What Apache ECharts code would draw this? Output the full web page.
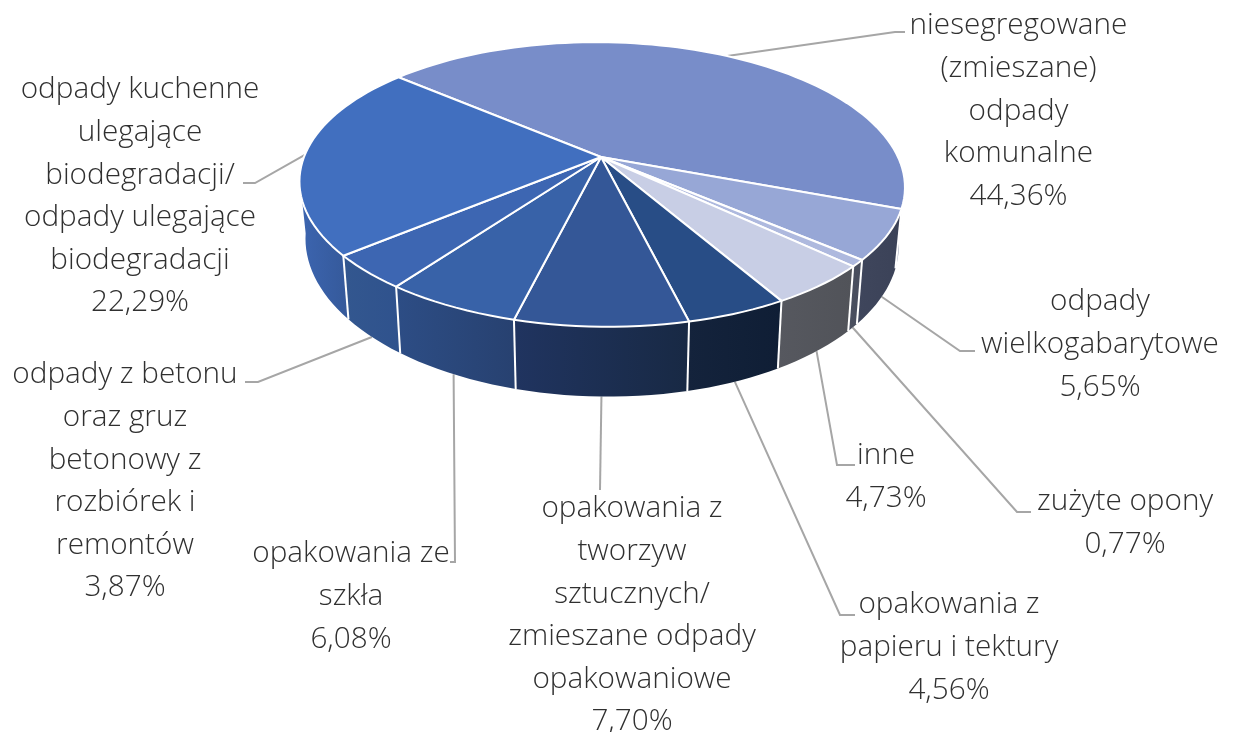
<!DOCTYPE html>
<html>
<head>
<meta charset="utf-8">
<title>Odpady</title>
<style>
    html,body{margin:0;padding:0;background:#fff;}
    #Dimg{width:1240px;height:732px;}
</style>
</head>
<body>
<div id="Dimg"></div>
<script src="https://cdn.jsdelivr.net/npm/echarts@6/dist/echarts.min.js"></script>
<script type="text/javascript">
    // dane
    var categories = [
        'niesegregowane\n(zmieszane)\nodpady\nkomunalne',
        'odpady\nwielkogabarytowe',
        'zużyte opony',
        'inne',
        'opakowania z\npapieru i tektury',
        'opakowania z\ntworzyw\nsztucznych/\nzmieszane odpady\nopakowaniowe',
        'opakowania ze\nszkła',
        'odpady z betonu\noraz gruz\nbetonowy z\nrozbiórek i\nremontów',
        'odpady kuchenne\nulegające\nbiodegradacji/\nodpady ulegające\nbiodegradacji'
    ];
    var values = [44.36, 5.65, 0.77, 4.73, 4.56, 7.70, 6.08, 3.87, 22.29];

    // kolory
    var topColors = ['#788dc9', '#97a7d6', '#aeb9de', '#c8cee5', '#284d86', '#345797', '#3862a8', '#3d66b2', '#416fbf'];
    var wallLeft = ['#a0a8bc', '#3f465c', '#4b5060', '#56585f', '#14233c', '#203460', '#2d4d85', '#33578f', '#3c65b0'];
    var wallRight = ['#6d7488', '#3b4258', '#474c5c', '#515359', '#0f1e35', '#182944', '#274170', '#2f528d', '#35599a'];

    // polozenie etykiet: srodek tekstu, pierwsza linia
    var labelX = [1018.5, 1100, 1125, 886, 949, 632, 351, 125, 140];
    var labelY = [26, 302, 502, 456, 605, 509, 554, 375, 90];
    var elbowPoints = [
        [[895, 32], [905, 32]],
        [[960, 351], [975, 351]],
        [[1017, 512], [1031, 512]],
        [[837, 465], [855, 465]],
        [[840, 615], [855, 615]],
        [[600, 490]],
        [[455, 562], [450, 562]],
        [[258, 382], [245, 382]],
        [[255, 183], [243, 183]]
    ];
    var fromTopRing = [true, false, false, false, false, false, false, false, true];

    // rzut perspektywiczny kola
    var startAngle = -49;
    var lineHeight = 42.6;
    var total = 0;
    for (var i = 0; i < values.length; i++) {
        total += values[i];
    }
    var angles = [startAngle];
    for (var i = 0; i < values.length; i++) {
        angles.push(angles[i] + values[i] / total * 360);
    }

    function project(deg, bottom) {
        var a = deg * Math.PI / 180;
        var u = Math.sin(a), v = Math.cos(a);
        var d = 1 + 0.193 * v;
        if (bottom) {
            return [601 + 0.98 * (297 * u - 6 * v) / d, 212 - 149 * v / d];
        }
        return [601 + (297 * u - 6 * v) / d, 157 - 137 * v / d];
    }
    function arc(a0, a1, bottom) {
        var pts = [];
        var n = Math.max(2, Math.ceil(Math.abs(a1 - a0) / 2));
        for (var i = 0; i <= n; i++) {
            pts.push(project(a0 + (a1 - a0) * i / n, bottom));
        }
        return pts;
    }

    var renderWall = function (params, api) {
        var idx = api.value(0);
        // tylko widoczna czesc sciany
        var a0 = Math.max(angles[idx], 100);
        var a1 = Math.min(angles[idx + 1], 262);
        var children = [];
        if (a1 > a0) {
            var lower = arc(a0, a1, true).reverse();
            children.push({
                type: 'polygon',
                shape: {points: arc(a0, a1, false).concat(lower)},
                style: {
                    fill: new echarts.graphic.LinearGradient(0, 0, 1, 0, [
                        {offset: 0, color: wallLeft[idx]},
                        {offset: 1, color: wallRight[idx]}
                    ]),
                    stroke: null
                }
            });
            if (angles[idx] > 100) {
                children.push({
                    type: 'line',
                    shape: {
                        x1: project(a0, false)[0], y1: project(a0, false)[1],
                        x2: project(a0, true)[0], y2: project(a0, true)[1]
                    },
                    style: {stroke: '#fff', lineWidth: 2}
                });
            }
        }
        return {type: 'group', children: children};
    };

    var renderTop = function (params, api) {
        var idx = api.value(0);
        return {
            type: 'polygon',
            shape: {points: [[601, 157]].concat(arc(angles[idx], angles[idx + 1], false))},
            style: {fill: topColors[idx], stroke: '#fff', lineWidth: 2, lineJoin: 'round'}
        };
    };

    var renderLeader = function (params, api) {
        var idx = api.value(0);
        var mid = (angles[idx] + angles[idx + 1]) / 2;
        return {
            type: 'polyline',
            shape: {points: [project(mid, !fromTopRing[idx])].concat(elbowPoints[idx])},
            style: {stroke: '#a6a6a6', lineWidth: 2, fill: null}
        };
    };

    var renderLabel = function (params, api) {
        var idx = api.value(0);
        var text = categories[idx] + '\n' + values[idx].toFixed(2).replace('.', ',') + '%';
        return {
            type: 'text',
            x: labelX[idx],
            y: labelY[idx] - lineHeight / 2,
            style: {
                text: text,
                align: 'center',
                verticalAlign: 'top',
                lineHeight: lineHeight,
                fill: '#303030',
                font: '300 29.7px "Open Sans", "Noto Sans", sans-serif'
            }
        };
    };

    var seriesData = [];
    for (var i = 0; i < values.length; i++) {
        seriesData.push([i, values[i]]);
    }

    var chart_option = {
        animation: false,
        backgroundColor: '#fff',
        series: [
            {type: 'custom', coordinateSystem: 'none', renderItem: renderLeader, data: seriesData, z: 1, silent: true},
            {type: 'custom', coordinateSystem: 'none', renderItem: renderWall, data: seriesData, z: 2, silent: true},
            {type: 'custom', coordinateSystem: 'none', renderItem: renderTop, data: seriesData, z: 3, silent: true},
            {type: 'custom', coordinateSystem: 'none', renderItem: renderLabel, data: seriesData, z: 4, silent: true}
        ]
    };
    var myChart = echarts.init(document.getElementById('Dimg'));
    myChart.setOption(chart_option);
</script>
</body>
</html>
